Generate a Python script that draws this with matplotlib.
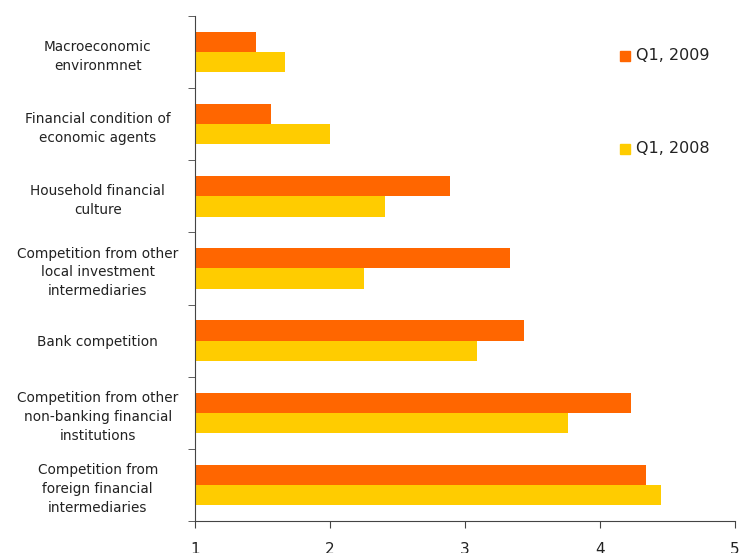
import matplotlib.pyplot as plt
import numpy as np

categories = [
    "Macroeconomic\nenvironmnet",
    "Financial condition of\neconomic agents",
    "Household financial\nculture",
    "Competition from other\nlocal investment\nintermediaries",
    "Bank competition",
    "Competition from other\nnon-banking financial\ninstitutions",
    "Competition from\nforeign financial\nintermediaries",
]
q1_2009 = [1.45, 1.56, 2.89, 3.33, 3.44, 4.23, 4.34]
q1_2008 = [1.67, 2.00, 2.41, 2.25, 3.09, 3.76, 4.45]
series_labels = ["Q1, 2009", "Q1, 2008"]
colors = ["#FF6600", "#FFCC00"]

fig = plt.figure(figsize=(7.5, 5.53), dpi=100)
ax = fig.add_axes([0.26, 0.058, 0.72, 0.913])

y = np.arange(len(categories))
h = 0.28
base = 1
ax.barh(y - h / 2, np.array(q1_2009) - base, height=h, left=base, color=colors[0])
ax.barh(y + h / 2, np.array(q1_2008) - base, height=h, left=base, color=colors[1])

ax.set_xlim(1, 5)
ax.set_ylim(len(categories) - 0.5, -0.5)
ax.set_xticks([1, 2, 3, 4, 5])
ax.tick_params(axis="x", labelsize=11, length=5, pad=10, color="#444444", labelcolor="#222222")

# category labels at bar centres, tick marks between categories
ax.set_yticks(y)
ax.set_yticklabels(categories, fontsize=9.8, color="#222222", ha="center",
                   multialignment="center", linespacing=1.45)
ax.tick_params(axis="y", which="major", length=0, pad=70)
ax.set_yticks(np.arange(-0.5, len(categories), 1), minor=True)
ax.tick_params(axis="y", which="minor", length=5, color="#444444")

for s in ["top", "right"]:
    ax.spines[s].set_visible(False)
for s in ["left", "bottom"]:
    ax.spines[s].set_color("#444444")

# legend entries drawn in figure coordinates
legend_y = [0.900, 0.732]
for lab, col, ly in zip(series_labels, colors, legend_y):
    fig.patches.append(plt.Rectangle((0.827, ly - 0.011), 0.0135, 0.0185,
                                     transform=fig.transFigure, color=col))
    fig.text(0.848, ly, lab, fontsize=11.5, va="center", color="#222222")

fig.savefig("out.png", dpi=100)
